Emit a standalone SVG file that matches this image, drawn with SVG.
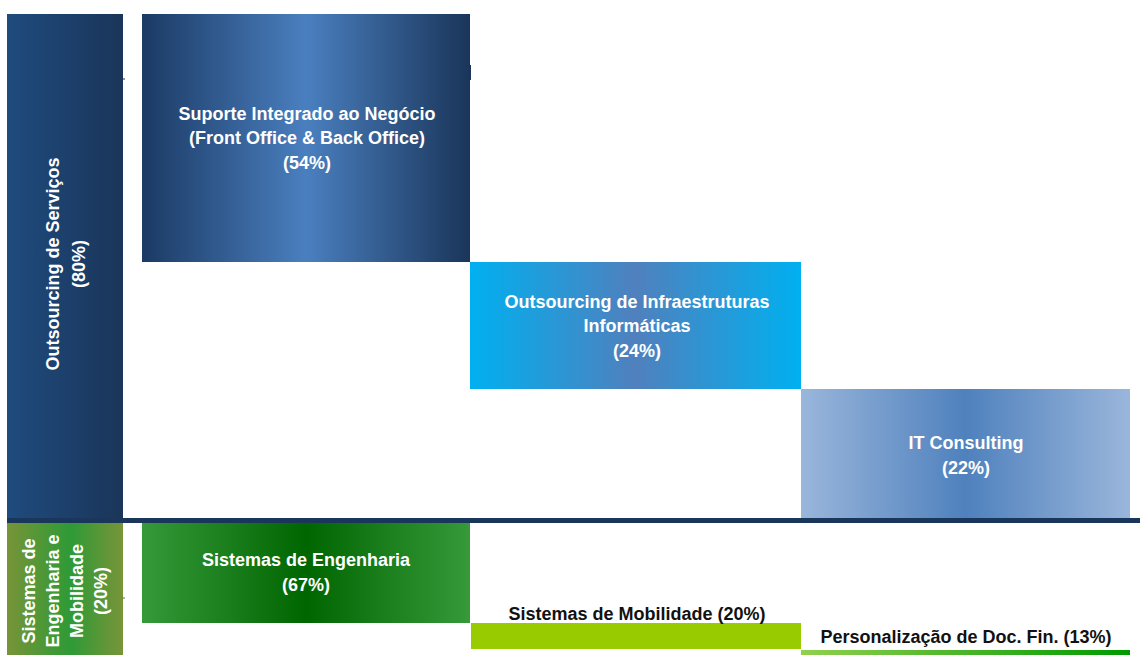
<svg xmlns="http://www.w3.org/2000/svg" width="1140" height="655" viewBox="0 0 1140 655">
<defs>
<linearGradient id="gNavy" x1="0" x2="1" y1="0" y2="0"><stop offset="0" stop-color="#1f4b7e"/><stop offset="1" stop-color="#1a3559"/></linearGradient>
<linearGradient id="gSup" x1="0" x2="1" y1="0" y2="0"><stop offset="0" stop-color="#1b3a64"/><stop offset="0.5" stop-color="#4a7fbf"/><stop offset="1" stop-color="#1a3559"/></linearGradient>
<linearGradient id="gInfra" x1="0" x2="1" y1="0" y2="0"><stop offset="0" stop-color="#00b0f0"/><stop offset="0.5" stop-color="#5080bd"/><stop offset="1" stop-color="#00b0f0"/></linearGradient>
<linearGradient id="gIT" x1="0" x2="1" y1="0" y2="0"><stop offset="0" stop-color="#9ab6db"/><stop offset="0.5" stop-color="#4f81bd"/><stop offset="1" stop-color="#9ab6db"/></linearGradient>
<linearGradient id="gOlive" x1="0" x2="1" y1="0" y2="0"><stop offset="0" stop-color="#779438"/><stop offset="0.55" stop-color="#2e9a36"/><stop offset="1" stop-color="#799439"/></linearGradient>
<linearGradient id="gEng" x1="0" x2="1" y1="0" y2="0"><stop offset="0" stop-color="#36993a"/><stop offset="0.5" stop-color="#006600"/><stop offset="1" stop-color="#36993a"/></linearGradient>
<linearGradient id="gPers" x1="0" x2="1" y1="0" y2="0"><stop offset="0" stop-color="#92d050"/><stop offset="1" stop-color="#009900"/></linearGradient>
<style>
.w{font-family:"Liberation Sans",Arial,sans-serif;font-weight:bold;font-size:18px;fill:#ffffff;text-anchor:middle}
.k{font-family:"Liberation Sans",Arial,sans-serif;font-weight:bold;font-size:18px;fill:#111111;text-anchor:middle}
.wv{font-family:"Liberation Sans",Arial,sans-serif;font-weight:bold;font-size:18px;fill:#ffffff;text-anchor:middle}
</style>
</defs>
<rect width="1140" height="655" fill="#ffffff"/>
<g id="outsourcing-servicos">
<rect x="7" y="14" width="116" height="504" fill="url(#gNavy)"/>
<text class="wv" transform="translate(59,264) rotate(-90)">Outsourcing de Serviços</text>
<text class="wv" transform="translate(85,264) rotate(-90)">(80%)</text>
</g>
<g id="sistemas-eng-mob">
<rect x="7" y="523" width="116" height="132" fill="url(#gOlive)"/>
<text class="wv" transform="translate(35,591) rotate(-90)">Sistemas de</text>
<text class="wv" transform="translate(59,591) rotate(-90)">Engenharia e</text>
<text class="wv" transform="translate(83,591) rotate(-90)">Mobilidade</text>
<text class="wv" transform="translate(107,591) rotate(-90)">(20%)</text>
</g>
<g id="connectors">
<rect x="7" y="518" width="1133" height="5" fill="#1a365a"/>
<line x1="122" y1="79" x2="125" y2="79" stroke="#1a3559" stroke-width="1"/>
<line x1="470" y1="65" x2="470" y2="80" stroke="#1a3559" stroke-width="2"/>
<line x1="122" y1="598" x2="125" y2="598" stroke="#5a7a30" stroke-width="1"/>
</g>
<g id="suporte">
<rect x="142" y="14" width="328" height="248" fill="url(#gSup)"/>
<text class="w" x="307" y="120">Suporte Integrado ao Negócio</text>
<text class="w" x="307" y="144">(Front Office &amp; Back Office)</text>
<text class="w" x="307" y="169">(54%)</text>
</g>
<g id="infra">
<rect x="470" y="262" width="331" height="127" fill="url(#gInfra)"/>
<text class="w" x="637" y="308">Outsourcing de Infraestruturas</text>
<text class="w" x="637" y="332">Informáticas</text>
<text class="w" x="637" y="357">(24%)</text>
</g>
<g id="it-consulting">
<rect x="801" y="389" width="329" height="129" fill="url(#gIT)"/>
<text class="w" x="966" y="449">IT Consulting</text>
<text class="w" x="966" y="474">(22%)</text>
</g>
<g id="engenharia">
<rect x="142" y="523" width="328" height="100" fill="url(#gEng)"/>
<text class="w" x="306" y="566">Sistemas de Engenharia</text>
<text class="w" x="306" y="591">(67%)</text>
</g>
<g id="mobilidade">
<rect x="471" y="623" width="330" height="26" fill="#99cc00"/>
<text class="k" x="637" y="620">Sistemas de Mobilidade (20%)</text>
</g>
<g id="personalizacao">
<rect x="801" y="650" width="329" height="5" fill="url(#gPers)"/>
<text class="k" x="966" y="643">Personalização de Doc. Fin. (13%)</text>
</g>
</svg>
